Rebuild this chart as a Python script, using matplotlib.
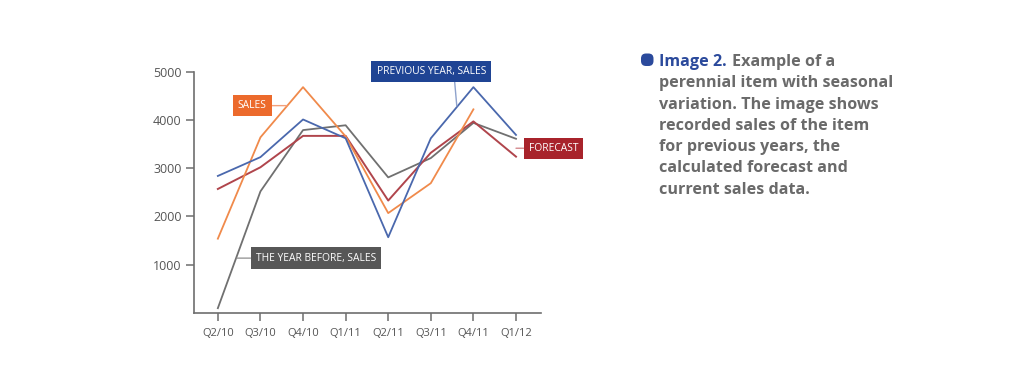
import matplotlib
matplotlib.use("Agg")
import matplotlib.pyplot as plt
from matplotlib.patches import FancyBboxPatch
from matplotlib.transforms import IdentityTransform

quarters = ['Q2/10', 'Q3/10', 'Q4/10', 'Q1/11', 'Q2/11', 'Q3/11', 'Q4/11', 'Q1/12']
previous_year = [2840, 3230, 4010, 3620, 1570, 3620, 4680, 3690]
sales = [1540, 3640, 4680, 3660, 2070, 2690, 4220]
forecast = [2570, 3020, 3670, 3670, 2330, 3320, 3970, 3240]
year_before = [100, 2520, 3790, 3890, 2810, 3210, 3940, 3610]

caption = ["Example of a",
           "perennial item with seasonal",
           "variation. The image shows",
           "recorded sales of the item",
           "for previous years, the",
           "calculated forecast and",
           "current sales data."]

c_blue = '#4a68ad'
c_orange = '#f08a4b'
c_red = '#b0454c'
c_gray = '#707070'
axis_col = '#6e6e6e'
cap_gray = '#6a6a6a'
cap_blue = '#2b4a9c'

plt.rcParams['font.family'] = ['Open Sans', 'DejaVu Sans']

W, H = 1024, 365
fig = plt.figure(figsize=(W / 100, H / 100), dpi=100)
ax = fig.add_axes([194 / W, 52 / H, (540.7 - 194) / W, (313 - 71.7) / H])

x = list(range(len(quarters)))
ax.plot(x, year_before, color=c_gray, lw=1.3)
ax.plot(x, forecast, color=c_red, lw=1.4)
ax.plot(x[:len(sales)], sales, color=c_orange, lw=1.3)
ax.plot(x, previous_year, color=c_blue, lw=1.3)

ax.set_xlim(-0.56, 7.58)
ax.set_ylim(0, 5000)
ax.set_xticks(x)
ax.set_xticklabels(quarters)
ax.set_yticks([1000, 2000, 3000, 4000, 5000])
for s in ['top', 'right']:
    ax.spines[s].set_visible(False)
for s in ['left', 'bottom']:
    ax.spines[s].set_color(axis_col)
    ax.spines[s].set_linewidth(1.2)
ax.spines['left'].set_bounds(0, 5000)
ax.tick_params(axis='both', colors=axis_col, labelcolor='#555555', width=1.1, length=6)
ax.tick_params(axis='x', labelsize=8, pad=5)
ax.tick_params(axis='y', labelsize=9, pad=3)


def tag(text, xy, xytext, fc, lc, relpos=(0.5, 0.5)):
    ax.annotate(text, xy=xy, xytext=xytext, color='white', fontsize=7.4,
                ha='center', va='center', annotation_clip=False,
                bbox=dict(boxstyle='square,pad=0.5', fc=fc, ec='none'),
                arrowprops=dict(arrowstyle='-', color=lc, lw=1.0,
                                shrinkA=0, shrinkB=0, relpos=relpos))


tag('SALES', (1.62, 4297), (0.805, 4297), '#ec6a2c', '#f3a07a')
tag('PREVIOUS YEAR, SALES', (5.61, 4290), (5.01, 5010), '#1f4494', '#8ea2cc', relpos=(0.71, 0))
tag('FORECAST', (7.0, 3414), (7.88, 3414), '#a8232b', '#d48a8e')
tag('THE YEAR BEFORE, SALES', (0.45, 1137), (2.30, 1137), '#575757', '#9a9a9a')

# caption on the right (pixel coordinates, y measured from the top)
bullet = FancyBboxPatch((641, H - 66), 12.5, 12.5,
                        boxstyle='round,pad=0,rounding_size=5',
                        transform=IdentityTransform(), fc=cap_blue, ec='none')
fig.add_artist(bullet)
x0 = 659 / W
base = 66
step = 21.3
fs = 11.6
t = fig.text(x0, 1 - base / H, 'Image 2.', color=cap_blue, fontsize=fs,
             fontweight='bold', va='baseline')
fig.canvas.draw()
bb = t.get_window_extent()
fig.text((bb.x1 + 5) / W, 1 - base / H, caption[0], color=cap_gray, fontsize=fs,
         fontweight='bold', va='baseline')
for i, line in enumerate(caption[1:], start=1):
    fig.text(x0, 1 - (base + i * step) / H, line, color=cap_gray, fontsize=fs,
             fontweight='bold', va='baseline')

fig.savefig('out.png', dpi=100, facecolor='white')
